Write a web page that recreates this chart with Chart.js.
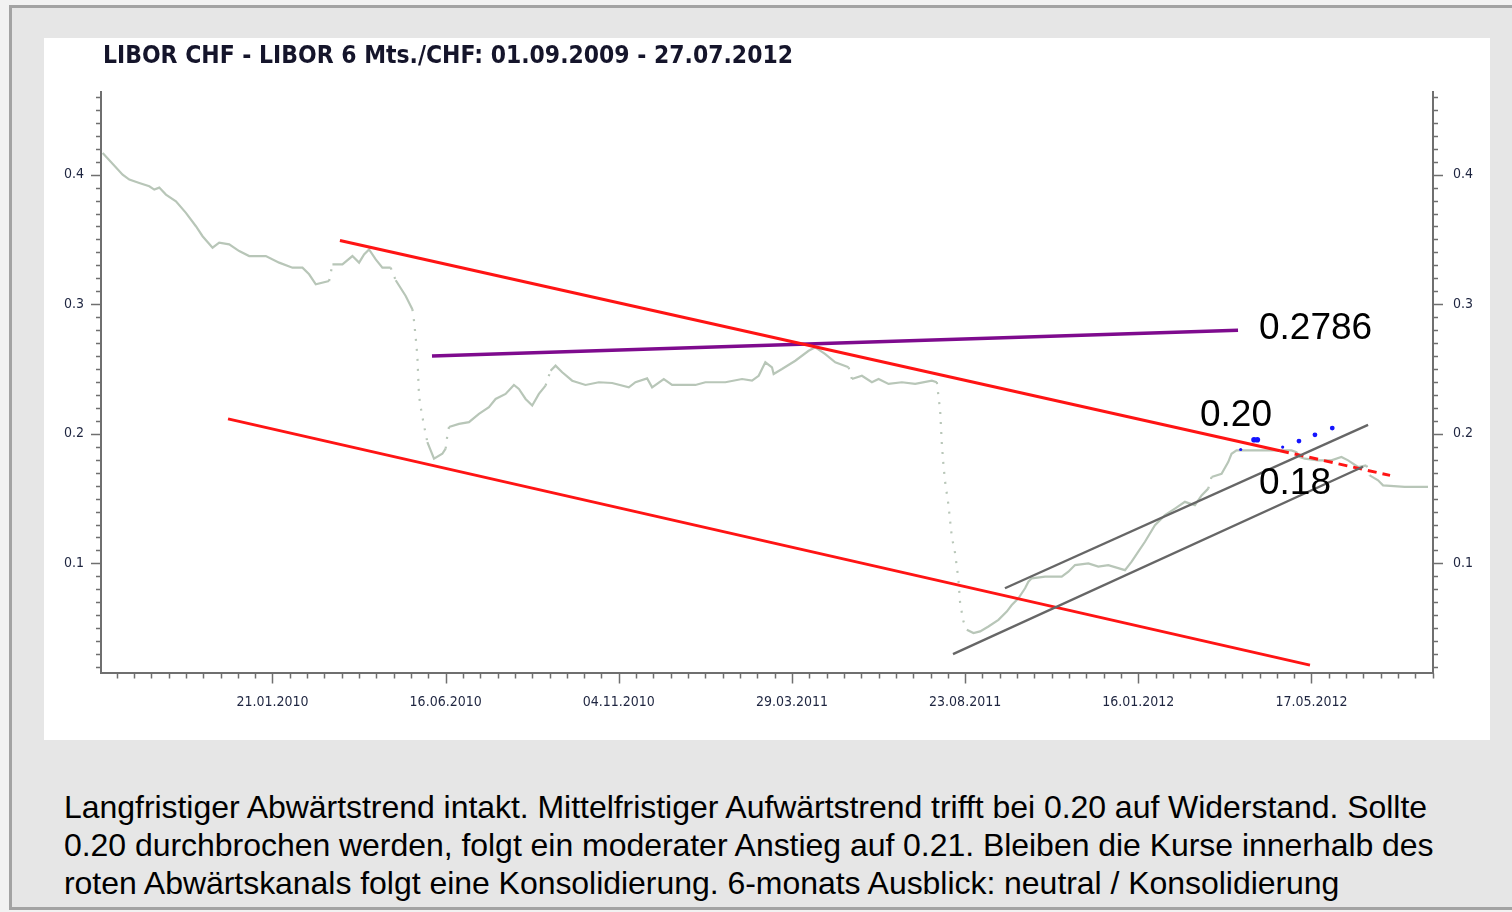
<!DOCTYPE html>
<html><head><meta charset="utf-8">
<script src="https://cdn.jsdelivr.net/npm/chart.js@4.4.1/dist/chart.umd.min.js"></script>
<style>
html,body{margin:0;padding:0;}
body{width:1512px;height:912px;background:#f2f2f2;position:relative;overflow:hidden;font-family:'Liberation Sans',Arial,sans-serif;}
#frame{position:absolute;left:9px;top:5px;width:1520px;height:899px;background:#e6e6e6;border-top:3px solid #a3a3a3;border-left:3px solid #a3a3a3;border-bottom:3px solid #a3a3a3;}
#panel{position:absolute;left:44px;top:38px;width:1446px;height:702px;background:#fff;}
#title{position:absolute;left:103px;top:43px;font:bold 24px 'DejaVu Sans';line-height:24px;color:#15152b;white-space:nowrap;transform-origin:0 0;}
.ann{position:absolute;font:37px 'Liberation Sans',Arial,sans-serif;line-height:37px;color:#000;white-space:nowrap;}
#note{position:absolute;left:64px;top:788px;font:32px 'Liberation Sans',Arial,sans-serif;letter-spacing:-0.04px;line-height:38px;color:#000;white-space:nowrap;}
canvas{position:absolute;left:44px;top:38px;}
</style></head>
<body>
<div id="frame"></div>
<div id="panel"></div>
<canvas id="c" width="1446" height="702"></canvas>
<div id="title">LIBOR CHF - LIBOR 6 Mts./CHF: 01.09.2009 - 27.07.2012</div>
<div class="ann" style="left:1259px;top:308px">0.2786</div>
<div class="ann" style="left:1200px;top:395px">0.20</div>
<div class="ann" style="left:1259px;top:463px">0.18</div>
<div id="note">Langfristiger Abwärtstrend intakt. Mittelfristiger Aufwärtstrend trifft bei 0.20 auf Widerstand. Sollte<br>0.20 durchbrochen werden, folgt ein moderater Anstieg auf 0.21. Bleiben die Kurse innerhalb des<br>roten Abwärtskanals folgt eine Konsolidierung. 6-monats Ausblick: neutral / Konsolidierung</div>
<script>
// ---- data (x = trading-day index since 01.09.2009, y = LIBOR 6M CHF in %) ----
const tickPos    = [103, 207, 311, 415, 519, 623, 727];
const tickLabels = ['21.01.2010','16.06.2010','04.11.2010','29.03.2011','23.08.2011','16.01.2012','17.05.2012'];
const yTicks     = [0.1, 0.2, 0.3, 0.4];

const liborX = [1,13,17,23,29,32,35,39,45,51,57,61,67,71,77,83,89,99,107,115,121,125,129,137,139,145,151,155,158,161,165,169,174,177,183,187,188,189,190,191,192,194,196,198,200,205,207,208,209,215,221,227,233,237,243,248,251,255,259,263,267,270,273,277,283,291,299,307,317,321,328,331,338,343,357,363,375,385,391,395,399,403,404,409,417,425,429,435,441,449,451,457,463,467,473,481,489,499,502,504,505,506,507,509,511,513,515,516,518,520,524,528,533,539,544,547,551,555,557,559,567,577,581,585,593,599,605,615,619,623,627,633,639,645,651,657,661,665,667,673,677,679,682,697,715,718,720,723,731,739,745,749,755,760,762,767,770,783,797];
const liborY = [0.4167,0.4000,0.3962,0.3936,0.3910,0.3885,0.3900,0.3846,0.3795,0.3705,0.3602,0.3525,0.3436,0.3475,0.3462,0.3410,0.3372,0.3372,0.3321,0.3282,0.3282,0.3231,0.3154,0.3179,0.3308,0.3308,0.3372,0.3321,0.3385,0.3423,0.3346,0.3282,0.3282,0.3185,0.3064,0.2962,0.2872,0.2744,0.2602,0.2295,0.2205,0.2064,0.1936,0.1872,0.1808,0.1846,0.1885,0.1987,0.2052,0.2077,0.2090,0.2154,0.2205,0.2269,0.2308,0.2377,0.2346,0.2269,0.2218,0.2308,0.2372,0.2487,0.2526,0.2475,0.2410,0.2377,0.2398,0.2392,0.2359,0.2398,0.2428,0.2359,0.2423,0.2377,0.2377,0.2398,0.2398,0.2423,0.2410,0.2448,0.2552,0.2513,0.2462,0.2500,0.2564,0.2641,0.2667,0.2615,0.2552,0.2513,0.2423,0.2448,0.2398,0.2423,0.2385,0.2398,0.2385,0.2410,0.2398,0.2179,0.1923,0.1756,0.1628,0.1449,0.1205,0.1077,0.0872,0.0692,0.0552,0.0487,0.0462,0.0475,0.0513,0.0564,0.0628,0.0679,0.0731,0.0808,0.0859,0.0885,0.0898,0.0898,0.0936,0.0987,0.1000,0.0975,0.0987,0.0948,0.1013,0.1090,0.1167,0.1295,0.1372,0.1423,0.1475,0.1449,0.1525,0.1577,0.1667,0.1692,0.1782,0.1846,0.1872,0.1872,0.1872,0.1859,0.1821,0.1808,0.1795,0.1795,0.1821,0.1795,0.1744,0.1756,0.1679,0.1641,0.1602,0.1590,0.1590];

const blueX = [684.5, 692.5, 694.5, 709.7, 719.5, 729.1, 739.5];
const blueY = [0.1879, 0.1954, 0.1954, 0.1898, 0.1944, 0.1992, 0.2044];

const redUpperX = [143.5, 708.1, 774.2];
const redUpperY = [0.3492, 0.1869, 0.1679];
const redLowerX = [76.3, 726.1];
const redLowerY = [0.2115, 0.0215];
const purpleX = [198.8, 682.9];
const purpleY = [0.2600, 0.2800];
const grayUpperX = [542.9, 761.0];
const grayUpperY = [0.0808, 0.2069];
const grayLowerX = [511.7, 758.0];
const grayLowerY = [0.0300, 0.1746];

const pts = (xs, ys) => xs.map((x, i) => ({x, y: ys[i]}));

// title horizontal compression to match the reference
(function(){
  const t = document.getElementById('title');
  const w = t.getBoundingClientRect().width;
  t.style.transform = 'scaleX(' + (690 / w) + ')';
})();

const tickMarks = {
  id: 'tickMarks',
  afterDraw(chart) {
    const ctx = chart.ctx, xs = chart.scales.x, yl = chart.scales.y;
    const ca = chart.chartArea;
    ctx.save();
    ctx.strokeStyle = '#6f6f6f';
    ctx.lineWidth = 1.5;
    ctx.beginPath();
    const step = 10.4;
    const start = tickPos[0] % step;
    for (let v = start; v <= xs.max + 0.01; v += step) {
      const px = Math.round(xs.getPixelForValue(v)) + 0.5;
      const major = tickPos.some(t => Math.abs(t - v) < 1);
      ctx.moveTo(px, ca.bottom); ctx.lineTo(px, ca.bottom + (major ? 10 : 5));
    }
    for (let k = 2; k <= 46; k++) {
      const v = k / 100;
      const major = k % 10 === 0;
      const py = Math.round(yl.getPixelForValue(v)) + 0.5;
      ctx.moveTo(ca.left, py); ctx.lineTo(ca.left - (major ? 10 : 5), py);
      ctx.moveTo(ca.right, py); ctx.lineTo(ca.right + (major ? 10 : 5), py);
    }
    ctx.stroke();
    ctx.restore();
  }
};

const lineDs = (data, color, width, extra) => Object.assign({
  type: 'line', data, borderColor: color, borderWidth: width, pointRadius: 0,
  showLine: true, fill: false, tension: 0
}, extra || {});

const tickFont = { family: 'DejaVu Sans Condensed', size: 14 };
const tickColor = '#1e2540';

new Chart(document.getElementById('c'), {
  type: 'scatter',
  data: {
    datasets: [
      { data: pts(blueX, blueY), backgroundColor: '#1414ff', borderWidth: 0,
        pointRadius: [1.6, 2.8, 2.8, 1.6, 2.4, 2.4, 2.4] },
      lineDs(pts(grayUpperX, grayUpperY), '#666666', 2.4),
      lineDs(pts(grayLowerX, grayLowerY), '#666666', 2.4),
      lineDs(pts(redUpperX, redUpperY), '#ff1414', 3, {
        segment: { borderDash: c => c.p0DataIndex === 1 ? [9, 6] : undefined } }),
      lineDs(pts(redLowerX, redLowerY), '#ff1414', 3),
      lineDs(pts(purpleX, purpleY), '#7e0b8e', 3.5),
      lineDs(pts(liborX, liborY), '#b8c6b8', 2.2, {
        segment: { borderDash: c => {
          const dx = Math.abs(c.p1.x - c.p0.x), dy = Math.abs(c.p1.y - c.p0.y);
          return (dy > 2.5 * dx && dy > 8) ? [2, 8] : undefined;
        } } })
    ]
  },
  options: {
    responsive: false,
    animation: false,
    layout: { padding: { top: 53.6, left: 0, right: 0, bottom: 0 } },
    plugins: { legend: { display: false }, tooltip: { enabled: false }, title: { display: false } },
    scales: {
      x: {
        type: 'linear', position: 'bottom', min: 0, max: 800,
        afterBuildTicks: s => { s.ticks = tickPos.map(v => ({ value: v })); },
        afterFit: s => { s.height = 66.6; },
        grid: { display: false, drawTicks: false },
        border: { display: true, color: '#6f6f6f', width: 2 },
        ticks: { autoSkip: false, maxRotation: 0, padding: 21, color: tickColor, font: tickFont,
          callback: v => { const i = tickPos.indexOf(v); return i >= 0 ? tickLabels[i] : ''; } }
      },
      y: {
        type: 'linear', position: 'left', min: 0.0151, max: 0.4641,
        afterBuildTicks: s => { s.ticks = yTicks.map(v => ({ value: v })); },
        afterFit: s => { s.width = 57; },
        grid: { display: false, drawTicks: false },
        border: { display: true, color: '#6f6f6f', width: 2 },
        ticks: { padding: 17, color: tickColor, font: tickFont, callback: v => v.toFixed(1) }
      },
      y2: {
        type: 'linear', position: 'right', min: 0.0151, max: 0.4641,
        afterBuildTicks: s => { s.ticks = yTicks.map(v => ({ value: v })); },
        afterFit: s => { s.width = 57; },
        grid: { display: false, drawTicks: false },
        border: { display: true, color: '#6f6f6f', width: 2 },
        ticks: { padding: 20, color: tickColor, font: tickFont, callback: v => v.toFixed(1) }
      }
    }
  },
  plugins: [tickMarks]
});
</script>
</body></html>
